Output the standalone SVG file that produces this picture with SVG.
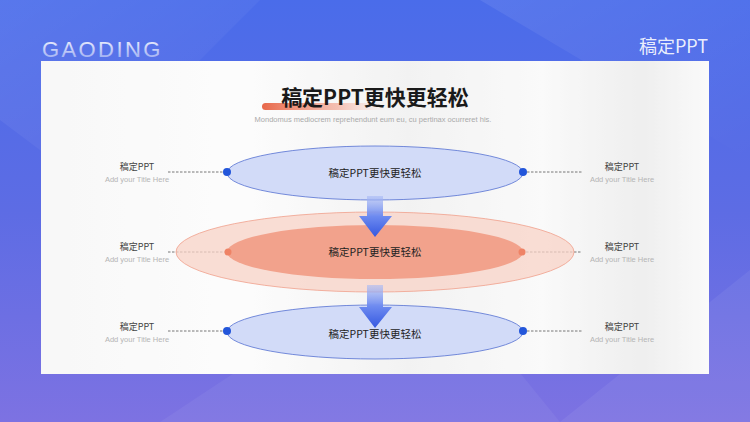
<svg xmlns="http://www.w3.org/2000/svg" width="750" height="422" viewBox="0 0 750 422">
<defs>
<linearGradient id="bg" x1="0" y1="0" x2="0" y2="1">
<stop offset="0" stop-color="#4a6cea"/>
<stop offset="0.5" stop-color="#5d6ce4"/>
<stop offset="1" stop-color="#7d72e2"/>
</linearGradient>
<linearGradient id="facet" x1="0" y1="0" x2="1" y2="1">
<stop offset="0" stop-color="#ffffff" stop-opacity="0.08"/>
<stop offset="1" stop-color="#ffffff" stop-opacity="0"/>
</linearGradient>
<linearGradient id="panel" x1="0" y1="0" x2="1" y2="0">
<stop offset="0" stop-color="#f4f4f4"/>
<stop offset="0.3" stop-color="#fbfbfb"/>
<stop offset="0.55" stop-color="#ececec"/>
<stop offset="0.75" stop-color="#f7f7f7"/>
<stop offset="0.9" stop-color="#e6e6e6"/>
<stop offset="1" stop-color="#f8f8f8"/>
</linearGradient>
<linearGradient id="hdr" x1="0" y1="0" x2="0" y2="1">
<stop offset="0" stop-color="#ffffff" stop-opacity="0.95"/>
<stop offset="1" stop-color="#ffffff" stop-opacity="0.35"/>
</linearGradient>
<linearGradient id="bar" x1="0" y1="0" x2="1" y2="0">
<stop offset="0" stop-color="#e8684a"/>
<stop offset="0.6" stop-color="#f29a84" stop-opacity="0.6"/>
<stop offset="1" stop-color="#f7c3b5" stop-opacity="0"/>
</linearGradient>
<linearGradient id="arrow" x1="0" y1="0" x2="0" y2="1">
<stop offset="0" stop-color="#a9baf5" stop-opacity="0.6"/>
<stop offset="0.5" stop-color="#6d8af0"/>
<stop offset="1" stop-color="#3558e0"/>
</linearGradient>
<style>
.blueEl{fill:#d2dbf8;stroke:#5470d2;stroke-width:0.8}
.bdot{fill:#2356da}
.odot{fill:#ef8366}
.dash{stroke:#555;stroke-width:0.8;stroke-dasharray:2.5 1.5;fill:none}
.lbl{font-family:"Noto Sans CJK SC","Liberation Sans",sans-serif;font-size:9px;fill:#444;text-anchor:middle}
.sub{font-family:"Liberation Sans","Noto Sans",sans-serif;font-size:7.5px;fill:#b5b5b5;text-anchor:middle}
.etx{font-family:"Noto Sans CJK SC","Liberation Sans",sans-serif;font-size:10.5px;fill:#222;text-anchor:middle}
</style>
</defs>
<rect x="0" y="0" width="750" height="422" fill="url(#bg)"/>
<polygon points="0,0 260,0 80,180 0,120" fill="url(#facet)"/>
<polygon points="480,0 750,0 750,160" fill="url(#facet)"/>
<polygon points="160,422 420,250 560,422" fill="#ffffff" fill-opacity="0.05"/>
<polygon points="560,422 750,270 750,422" fill="#ffffff" fill-opacity="0.06"/>
<text x="42" y="57" font-family="Liberation Sans, Arial, sans-serif" font-size="22" fill="url(#hdr)" letter-spacing="2.4">GAODING</text>
<text x="708" y="53" font-family="Noto Sans CJK SC, Liberation Sans, sans-serif" font-size="18" fill="#ffffff" fill-opacity="0.9" text-anchor="end">稿定PPT</text>
<rect x="41" y="61" width="668" height="313" fill="url(#panel)"/>
<rect x="41" y="61" width="668" height="313" fill="#ffffff" fill-opacity="0.35"/>
<g id="title">
<rect x="262" y="103" width="125" height="7" rx="3.5" fill="url(#bar)"/>
<text x="375" y="105" font-family="Noto Sans CJK SC, Liberation Sans, sans-serif" font-size="21" font-weight="bold" fill="#1a1a1a" text-anchor="middle">稿定PPT更快更轻松</text>
<text x="373" y="122" font-family="Liberation Sans, Arial, sans-serif" font-size="7.5" fill="#aaaaaa" text-anchor="middle">Mondomus mediocrem reprehendunt eum eu, cu pertinax ocurreret his.</text>
</g>
<g id="connectors">
<line class="dash" x1="168" y1="172" x2="227" y2="172"/>
<line class="dash" x1="523" y1="172" x2="582" y2="172"/>
<line class="dash" x1="168" y1="252" x2="228" y2="252"/>
<line class="dash" x1="522" y1="252" x2="582" y2="252"/>
<line class="dash" x1="168" y1="331" x2="227" y2="331"/>
<line class="dash" x1="523" y1="331" x2="582" y2="331"/>
</g>
<g id="labels-left">
<text class="lbl" x="137" y="170">稿定PPT</text>
<text class="sub" x="137" y="182">Add your Title Here</text>
<text class="lbl" x="137" y="250">稿定PPT</text>
<text class="sub" x="137" y="262">Add your Title Here</text>
<text class="lbl" x="137" y="330">稿定PPT</text>
<text class="sub" x="137" y="342">Add your Title Here</text>
</g>
<g id="labels-right">
<text class="lbl" x="622" y="170">稿定PPT</text>
<text class="sub" x="622" y="182">Add your Title Here</text>
<text class="lbl" x="622" y="250">稿定PPT</text>
<text class="sub" x="622" y="262">Add your Title Here</text>
<text class="lbl" x="622" y="330">稿定PPT</text>
<text class="sub" x="622" y="342">Add your Title Here</text>
</g>
<g id="node-middle">
<ellipse cx="375" cy="252" rx="199" ry="40" fill="#f8d3c7" fill-opacity="0.75" stroke="#f0a08b" stroke-width="0.8"/>
<ellipse cx="375" cy="252" rx="148" ry="27" fill="#f2a28c"/>
<circle class="odot" cx="228" cy="252" r="3.5"/>
<circle class="odot" cx="522" cy="252" r="3.5"/>
<text class="etx" x="375" y="256">稿定PPT更快更轻松</text>
</g>
<g id="node-top">
<ellipse class="blueEl" cx="375" cy="173" rx="148" ry="27"/>
<circle class="bdot" cx="227" cy="172" r="4"/>
<circle class="bdot" cx="523" cy="172" r="4"/>
<text class="etx" x="375" y="177">稿定PPT更快更轻松</text>
</g>
<g id="node-bottom">
<ellipse class="blueEl" cx="375" cy="332" rx="148" ry="27"/>
<circle class="bdot" cx="227" cy="331" r="4"/>
<circle class="bdot" cx="523" cy="331" r="4"/>
<text class="etx" x="375" y="338">稿定PPT更快更轻松</text>
</g>
<g id="arrows">
<polygon points="367,196 383,196 383,216 392,216 375,237 359,216 367,216" fill="url(#arrow)"/>
<polygon points="367,285 383,285 383,307 392,307 375,328 359,307 367,307" fill="url(#arrow)"/>
</g>
</svg>
